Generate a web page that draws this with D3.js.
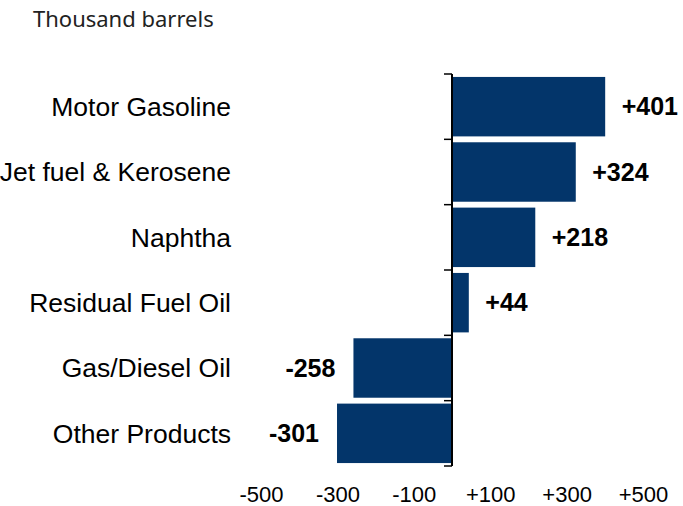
<!DOCTYPE html>
<html><head><meta charset="utf-8">
<script src="https://cdn.jsdelivr.net/npm/d3@7"></script>
<style>body{margin:0;background:#fff}svg{display:block}</style>
</head><body>
<script>
const categories = ["Motor Gasoline","Jet fuel & Kerosene","Naphtha","Residual Fuel Oil","Gas/Diesel Oil","Other Products"];
const values = [401,324,218,44,-258,-301];
const tickValues = [-500,-300,-100,100,300,500];
const tickLabels = ["-500","-300","-100","+100","+300","+500"];
const unitLabel = "Thousand barrels";

const W=683,H=506;
const svg=d3.select("body").append("svg").attr("width",W).attr("height",H);
const x=d3.scaleLinear().domain([-500,500]).range([261,643]);
const y=d3.scaleBand().domain(categories).range([74,466]).paddingInner(0.09).paddingOuter(0.045);

svg.append("text").attr("x",33).attr("y",27).attr("font-family","'Noto Sans', 'Open Sans', sans-serif")
  .attr("font-size",22).attr("fill","#222").text(unitLabel);

svg.selectAll("rect.bar").data(values).join("rect").attr("class","bar")
  .attr("x",d=>x(Math.min(0,d))).attr("width",d=>Math.abs(x(d)-x(0)))
  .attr("y",(d,i)=>y(categories[i])).attr("height",y.bandwidth()).attr("fill","#03356A");

// vertical axis with ticks at band boundaries
const yAxis=svg.append("g");
yAxis.append("line").attr("x1",x(0)).attr("x2",x(0)).attr("y1",74).attr("y2",466).attr("stroke","#000").attr("stroke-width",2);
const bounds=categories.map(c=>y(c)-y.step()*y.paddingInner()/2); bounds[0]=74; bounds.push(466);
yAxis.selectAll("line.t").data(bounds).join("line").attr("class","t")
  .attr("x1",x(0)-8).attr("x2",x(0)).attr("y1",d=>d).attr("y2",d=>d).attr("stroke","#000").attr("stroke-width",1.5);

svg.selectAll("text.cat").data(categories).join("text").attr("class","cat")
  .attr("x",231).attr("y",d=>y(d)+y.bandwidth()/2).attr("dy","0.35em").attr("text-anchor","end")
  .attr("font-family","'Liberation Sans', Arial, sans-serif").attr("font-size",26.5).attr("fill","#000").text(d=>d);

svg.selectAll("text.val").data(values).join("text").attr("class","val")
  .attr("x",d=>d>=0?x(d)+16.5:x(d)-18).attr("y",(d,i)=>y(categories[i])+y.bandwidth()/2).attr("dy","0.35em")
  .attr("text-anchor",d=>d>=0?"start":"end").attr("font-weight","bold")
  .attr("font-family","'Liberation Sans', Arial, sans-serif").attr("font-size",25).attr("fill","#000")
  .text(d=>(d>0?"+":"")+d);

const xAxis=d3.axisBottom(x).tickValues(tickValues).tickFormat((d,i)=>tickLabels[i]).tickSize(0).tickPadding(0);
const gx=svg.append("g").attr("transform","translate(0,486)").call(xAxis);
gx.select(".domain").remove();
gx.selectAll("text").attr("font-family","'Liberation Sans', Arial, sans-serif").attr("font-size",22).attr("fill","#000");
</script>
</body></html>
